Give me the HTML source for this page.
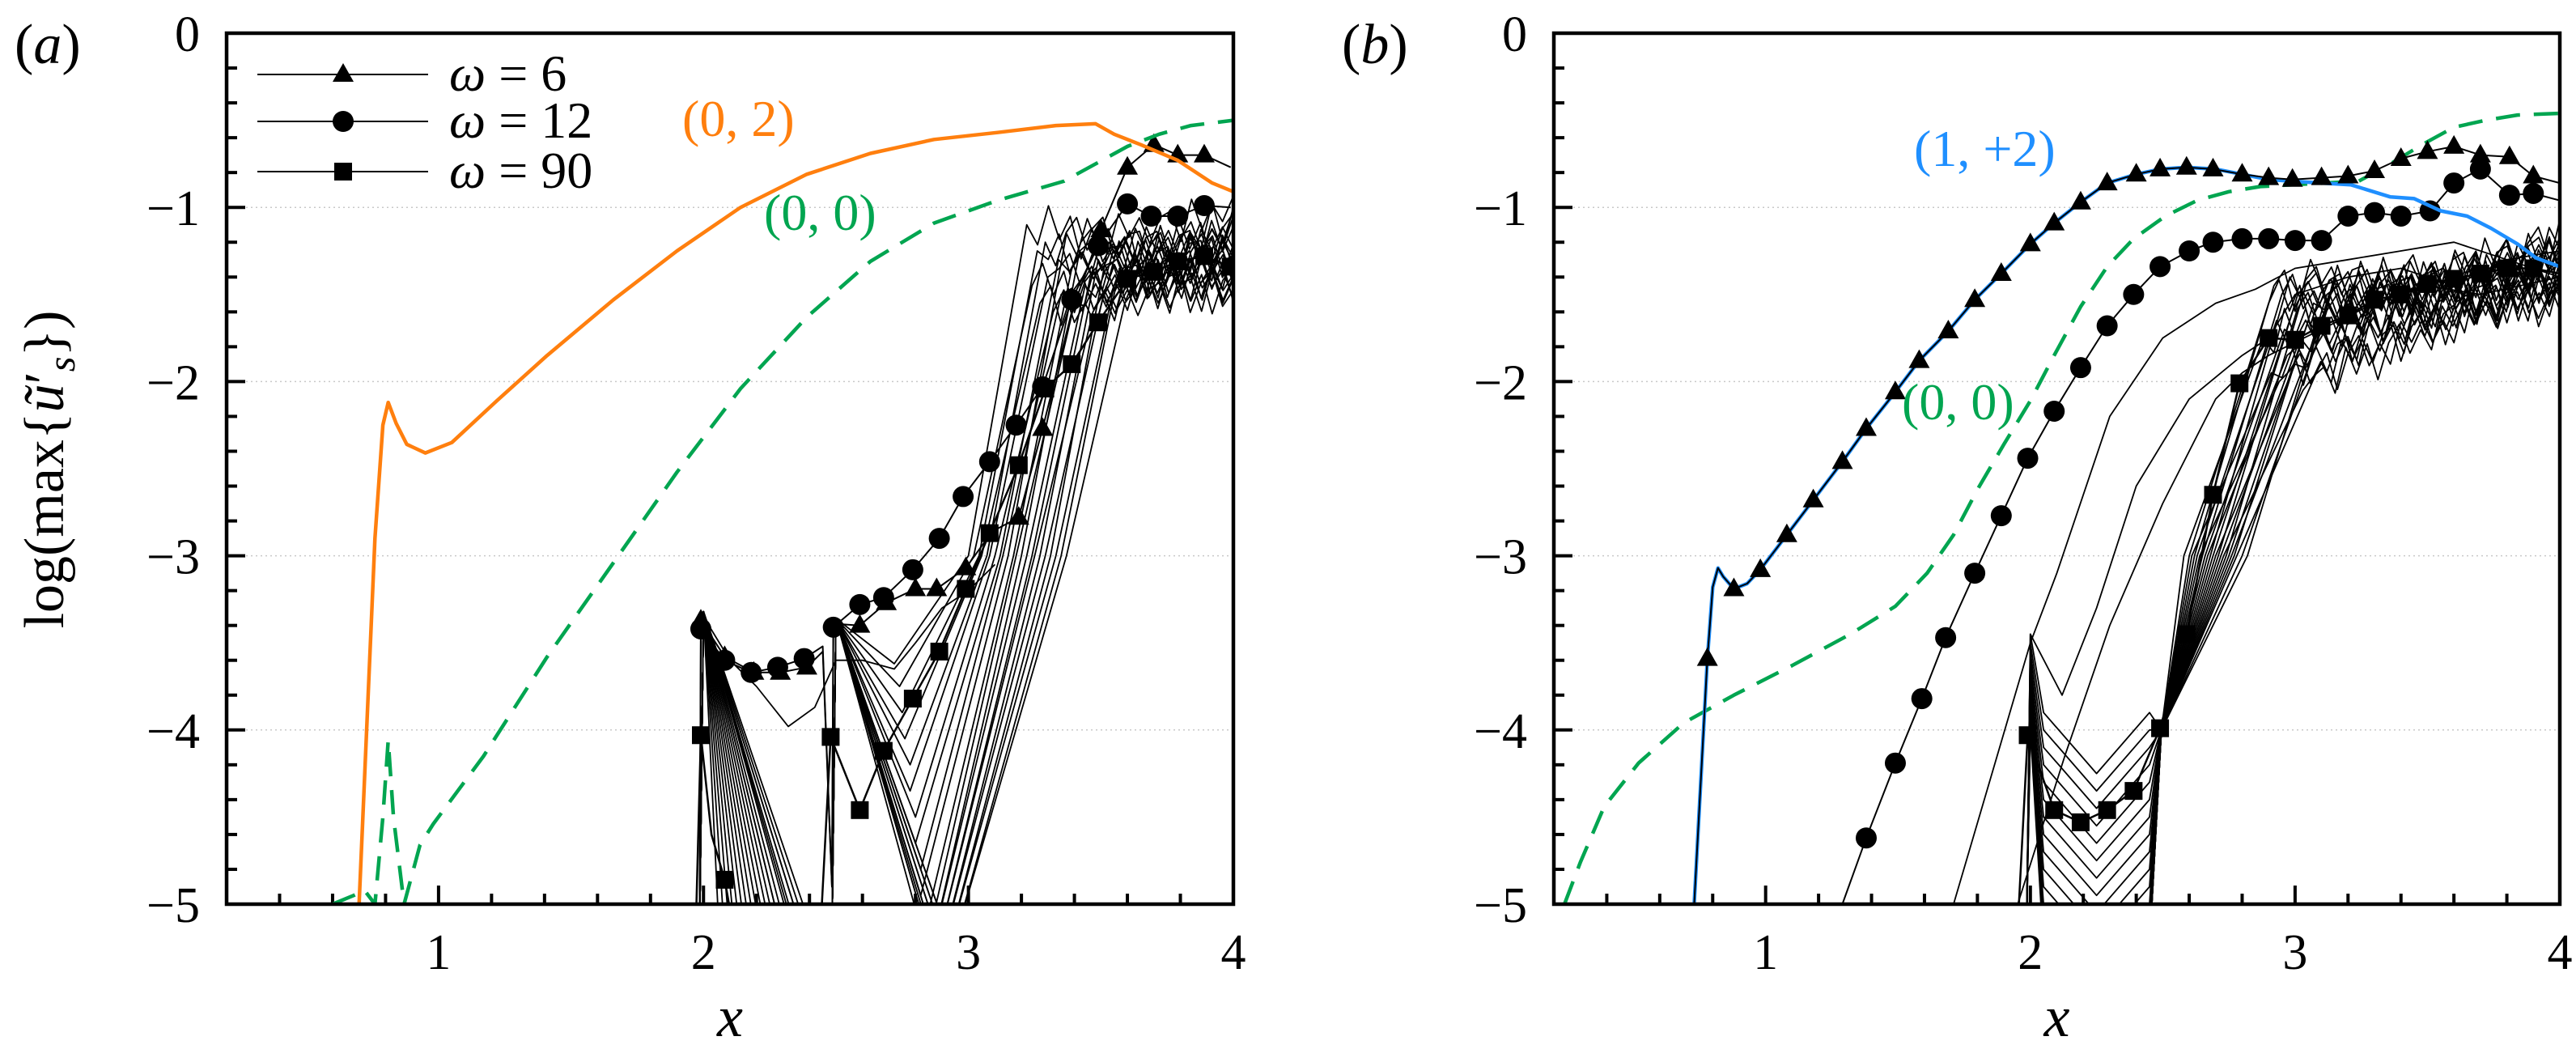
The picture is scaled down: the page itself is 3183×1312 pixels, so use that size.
<!DOCTYPE html>
<html><head><meta charset="utf-8">
<style>
html,body{margin:0;padding:0;background:#fff;overflow:hidden;width:3183px;height:1312px;}
svg{display:block;font-family:"Liberation Serif",serif;}
</style></head>
<body>
<svg id="chart" width="3183" height="1312" viewBox="0 0 3183 1312" xmlns="http://www.w3.org/2000/svg" overflow="hidden">
<defs>
<clipPath id="clipA"><rect x="280" y="41" width="1244" height="1076"/></clipPath>
<clipPath id="clipB"><rect x="1920" y="41" width="1243" height="1076"/></clipPath>
</defs>
<g id="layer"></g>
</svg>
<script>
// ---------- data (panel a) ----------
const xTicks = [1, 2, 3, 4];
const yTicks = [0, -1, -2, -3, -4, -5];
const orangeA_x = [0.70,0.76,0.79,0.81,0.84,0.88,0.95,1.05,1.22,1.41,1.66,1.90,2.14,2.39,2.63,2.87,3.11,3.33,3.48,3.55,3.65,3.79,3.92,4.0];
const orangeA_y = [-5,-2.9,-2.25,-2.12,-2.24,-2.36,-2.41,-2.35,-2.11,-1.85,-1.53,-1.25,-1.0,-0.81,-0.69,-0.61,-0.57,-0.53,-0.52,-0.58,-0.64,-0.73,-0.86,-0.91];
const greenA_x = [0.60,0.68,0.72,0.76,0.79,0.81,0.83,0.87,0.93,0.98,1.17,1.41,1.66,1.90,2.14,2.39,2.63,2.87,3.11,3.36,3.60,3.72,3.84,4.0];
const greenA_y = [-5,-4.95,-4.92,-5,-4.5,-4.06,-4.5,-5,-4.66,-4.54,-4.15,-3.58,-3.04,-2.52,-2.04,-1.63,-1.31,-1.09,-0.96,-0.85,-0.65,-0.58,-0.53,-0.5];
const w6A_x = [1.985,1.99,2.08,2.19,2.29,2.39,2.45,2.485,2.49,2.59,2.69,2.80,2.88,2.99,3.09,3.19,3.28,3.39,3.50,3.60,3.70,3.79,3.89,3.99];
const w6A_y = [-5.2,-3.37,-3.58,-3.67,-3.67,-3.64,-3.55,-4.9,-3.39,-3.40,-3.27,-3.19,-3.19,-3.07,-2.86,-2.78,-2.27,-1.60,-1.13,-0.77,-0.64,-0.70,-0.70,-0.77];
const w6A_m = [0,1,1,1,1,1,0,0,0,1,1,1,1,1,0,1,1,0,1,1,1,1,1,0];
const w12A_x = [1.985,1.99,2.08,2.18,2.28,2.38,2.45,2.485,2.49,2.59,2.68,2.79,2.89,2.98,3.08,3.18,3.28,3.39,3.49,3.60,3.69,3.79,3.89,3.99];
const w12A_y = [-5.2,-3.42,-3.60,-3.67,-3.64,-3.59,-3.52,-4.9,-3.41,-3.28,-3.24,-3.08,-2.90,-2.66,-2.46,-2.25,-2.03,-1.53,-1.22,-0.98,-1.05,-1.05,-0.99,-1.0];
const w12A_m = [0,1,1,1,1,1,0,0,1,1,1,1,1,1,1,1,1,1,1,1,1,1,1,0];
const w90A_x = [1.97,1.99,2.03,2.08,2.12,2.44,2.48,2.59,2.68,2.79,2.89,2.99,3.08,3.19,3.29,3.39,3.49,3.60,3.70,3.79,3.89,3.99];
const w90A_y = [-5.2,-4.03,-4.6,-4.86,-5.2,-5.2,-4.04,-4.46,-4.12,-3.82,-3.55,-3.19,-2.87,-2.48,-2.04,-1.90,-1.66,-1.41,-1.37,-1.31,-1.28,-1.34];
const w90A_m = [0,1,0,1,0,0,1,1,1,1,1,1,1,1,1,1,1,1,1,1,1,1];
const midA_x = [2.0,2.1,2.2,2.32,2.42,2.5,2.6,2.72,2.8,2.9,3.0,3.1];
const midA_y = [-3.35,-3.6,-3.75,-3.98,-3.87,-3.6,-3.6,-3.65,-3.5,-3.3,-3.2,-3.05];
const bundleA_end1 = [2.06,2.08,2.10,2.12,2.14,2.16,2.18,2.20,2.22,2.24,2.26,2.28,2.30,2.32,2.34,2.36,2.38,2.40,2.42,2.38,2.35,2.30];
const bundleA_min = [-3.62,-3.75,-3.90,-4.05,-4.20,-4.35,-4.50,-4.65,-4.80,-4.95,-5.10,-5.30,-5.50,-5.70,-5.90,-6.10,-6.30,-6.50,-6.70,-6.90,-7.10,-7.30];
const bundleA_minX = [2.72,2.74,2.75,2.76,2.78,2.78,2.80,2.80,2.82,2.82,2.84,2.84,2.86,2.86,2.88,2.88,2.90,2.90,2.92,2.92,2.94,2.94];
const bundleA_rise = [3.00,3.02,3.04,3.05,3.07,3.08,3.10,3.12,3.13,3.15,3.17,3.18,3.20,3.22,3.24,3.25,3.27,3.29,3.31,3.33,3.35,3.37];
const bundleA_plat = [-1.10,-1.45,-1.25,-1.55,-1.20,-1.40,-1.60,-1.30,-1.50,-1.15,-1.35,-1.55,-1.25,-1.45,-1.40,-1.60,-1.30,-1.50,-1.20,-1.45,-1.35,-1.55];
const noise = [0.06,-0.08,0.10,-0.04,0.07,-0.11,0.03,0.09,-0.06,0.02,-0.09,0.08,-0.03,0.05,-0.07,0.04];

// ---------- data (panel b) ----------
const blueB_x = [0.73,0.78,0.80,0.82,0.84,0.88,0.93,0.98,1.08,1.18,1.29,1.38,1.49,1.58,1.69,1.79,1.89,2.0,2.09,2.19,2.29,2.40,2.49,2.59,2.70,2.80,2.90,2.99,3.10,3.21,3.36,3.45,3.55,3.65,3.74,3.84,3.91,4.0];
const blueB_y = [-5,-3.59,-3.18,-3.07,-3.12,-3.19,-3.16,-3.08,-2.88,-2.68,-2.46,-2.27,-2.06,-1.88,-1.71,-1.53,-1.38,-1.21,-1.09,-0.97,-0.86,-0.81,-0.78,-0.77,-0.78,-0.81,-0.84,-0.85,-0.86,-0.87,-0.94,-0.95,-1.02,-1.05,-1.12,-1.21,-1.29,-1.34];
const w6B_x = [0.73,0.78,0.80,0.82,0.84,0.88,0.93,0.98,1.08,1.18,1.29,1.38,1.49,1.58,1.69,1.79,1.89,2.0,2.09,2.19,2.29,2.40,2.49,2.59,2.69,2.80,2.90,2.99,3.10,3.20,3.30,3.40,3.50,3.60,3.70,3.81,3.90,4.0];
const w6B_y = [-5,-3.59,-3.18,-3.07,-3.12,-3.19,-3.16,-3.08,-2.88,-2.68,-2.46,-2.27,-2.06,-1.88,-1.71,-1.53,-1.38,-1.21,-1.09,-0.97,-0.86,-0.81,-0.78,-0.77,-0.78,-0.81,-0.83,-0.84,-0.83,-0.82,-0.79,-0.72,-0.68,-0.65,-0.70,-0.71,-0.82,-0.86];
const w6B_m = [0,1,0,0,0,1,0,1,1,1,1,1,1,1,1,1,1,1,1,1,1,1,1,1,1,1,1,1,1,1,1,1,1,1,1,1,1,0];
const greenB_x = [0.24,0.30,0.39,0.52,0.69,0.88,1.10,1.32,1.49,1.61,1.71,1.80,1.90,2.0,2.09,2.19,2.29,2.39,2.51,2.63,2.75,2.87,3.11,3.24,3.36,3.48,3.60,3.72,3.84,4.0];
const greenB_y = [-5,-4.76,-4.44,-4.19,-3.96,-3.80,-3.63,-3.45,-3.29,-3.10,-2.88,-2.62,-2.36,-2.11,-1.85,-1.57,-1.34,-1.18,-1.05,-0.96,-0.91,-0.88,-0.86,-0.85,-0.75,-0.64,-0.54,-0.50,-0.47,-0.46];
const w12B_x = [1.29,1.38,1.49,1.59,1.68,1.79,1.89,1.99,2.09,2.19,2.29,2.39,2.49,2.60,2.69,2.80,2.90,3.0,3.10,3.20,3.30,3.40,3.51,3.60,3.70,3.81,3.90,4.0];
const w12B_y = [-5,-4.62,-4.19,-3.82,-3.47,-3.10,-2.77,-2.44,-2.17,-1.92,-1.68,-1.50,-1.34,-1.25,-1.20,-1.18,-1.18,-1.19,-1.19,-1.05,-1.03,-1.05,-1.02,-0.86,-0.78,-0.93,-0.92,-0.96];
const w12B_m = [0,1,1,1,1,1,1,1,1,1,1,1,1,1,1,1,1,1,1,1,1,1,1,1,1,1,1,0];
const w90B_x = [1.95,1.99,2.09,2.19,2.29,2.39,2.49,2.59,2.69,2.79,2.90,3.0,3.10,3.20,3.30,3.40,3.50,3.60,3.70,3.80,3.90,4.0];
const w90B_y = [-5.2,-4.03,-4.46,-4.53,-4.46,-4.35,-3.99,-3.45,-2.65,-2.01,-1.75,-1.76,-1.68,-1.62,-1.53,-1.50,-1.44,-1.41,-1.38,-1.35,-1.35,-1.38];
const w90B_m = [0,1,1,1,1,1,1,1,1,1,1,1,1,1,1,1,1,1,1,1,1,0];
const extraB1_x = [1.71,2.0,2.1,2.3,2.5,2.7,2.85,3.0,3.2,3.4,3.6,3.8,4.0];
const extraB1_y = [-5,-3.5,-3.1,-2.2,-1.75,-1.55,-1.47,-1.35,-1.3,-1.25,-1.2,-1.3,-1.25];
const extraB2_x = [1.985,2.0,2.12,2.25,2.4,2.6,2.8,2.9,3.0,3.2,3.4,3.6,3.8,4.0];
const extraB2_y = [-5.2,-3.45,-3.8,-3.3,-2.6,-2.1,-1.85,-1.75,-1.5,-1.4,-1.35,-1.45,-1.3,-1.4];
const extraB3_x = [1.9,2.13,2.3,2.5,2.7,2.8,2.9,3.1,3.3,3.5,3.7,4.0];
const extraB3_y = [-5.6,-4.15,-3.4,-2.7,-2.1,-1.95,-1.85,-1.7,-1.55,-1.45,-1.5,-1.4];
const bundleB_top = [-3.45,-3.5,-3.55,-3.6,-3.65,-3.7,-3.75,-3.8,-3.85,-3.9,-3.95,-4.0,-3.5,-3.6,-3.7,-3.8,-3.9,-4.0,-3.55,-3.65,-3.75,-3.85];
const bundleB_min = [-4.25,-4.35,-4.45,-4.55,-4.65,-4.75,-4.85,-4.95,-5.05,-5.15,-5.25,-5.35,-5.45,-5.55,-5.65,-5.75,-5.85,-5.95,-6.05,-6.15,-6.25,-6.35];
const bundleB_rise = [2.58,2.60,2.61,2.62,2.63,2.64,2.65,2.66,2.67,2.68,2.69,2.70,2.71,2.72,2.73,2.74,2.75,2.76,2.77,2.78,2.80,2.82];
const bundleB_plat = [-1.75,-1.55,-1.95,-1.45,-1.65,-2.0,-1.5,-1.7,-1.85,-1.4,-1.6,-1.9,-1.5,-1.75,-2.05,-1.45,-1.65,-1.8,-1.55,-1.95,-1.7,-1.5];
const bundleB_end = [-1.2,-1.45,-1.3,-1.5,-1.25,-1.4,-1.55,-1.35,-1.2,-1.45,-1.3,-1.5,-1.25,-1.4,-1.35,-1.55,-1.3,-1.45,-1.2,-1.4,-1.5,-1.35];

// ---------- drawing ----------
const NS = 'http://www.w3.org/2000/svg';
const layer = document.getElementById('layer');
const Y0 = 41, YS = 215.2;
const panels = {
  a: {left: 280, right: 1524, clip: 'clipA'},
  b: {left: 1920, right: 3163, clip: 'clipB'}
};
function xs(p, v){ const P = panels[p]; return P.left + (v - 0.2) * (P.right - P.left) / 3.8; }
function ys(v){ return Y0 - v * YS; }
function ysc(v){ return ys(Math.max(v, -5.25)); }
function mk(tag, attrs, parent){
  const e = document.createElementNS(NS, tag);
  for (const k in attrs) e.setAttribute(k, attrs[k]);
  (parent || layer).appendChild(e);
  return e;
}
function txt(str, x, y, size, anchor, parent, style){
  const t = mk('text', {x: x, y: y, 'font-size': size, 'text-anchor': anchor || 'middle', fill: '#000'}, parent);
  if (style) t.setAttribute('font-style', style);
  t.textContent = str;
  return t;
}
function pathD(p, xa, ya){
  return xa.map((v, i) => (i ? 'L' : 'M') + xs(p, v).toFixed(1) + ' ' + ysc(ya[i]).toFixed(1)).join(' ');
}
function drawMarkers(p, g, xa, ya, m, kind){
  xa.forEach((v, i) => {
    if (!m[i]) return;
    const cx = xs(p, v), cy = ys(Math.max(ya[i], -5.2));
    let e;
    if (kind === 'tri') e = mk('polygon', {points: `${cx},${cy-14} ${cx-13},${cy+9} ${cx+13},${cy+9}`, fill: '#000'}, g);
    else if (kind === 'circ') e = mk('circle', {cx: cx, cy: cy, r: 13, fill: '#000'}, g);
    else e = mk('rect', {x: cx-11, y: cy-11, width: 22, height: 22, fill: '#000'}, g);
    
    
  });
}

function axes(p, label){
  const P = panels[p];
  const g = mk('g', {});
  
  
  yTicks.forEach(t => {
    if (t === 0 || t === -5) return;
    const gl = mk('line', {x1: P.left, x2: P.right, y1: ys(t), y2: ys(t), stroke: '#c8c8c8', 'stroke-width': 1.5, 'stroke-dasharray': '2 4'}, g);
    
    
  });
  for (let k = 1; k < 19; k++){
    const v = 0.2 + k * 0.2;
    const isMaj = Math.abs(v - Math.round(v)) < 1e-6;
    const t = mk('line', {x1: xs(p, v), x2: xs(p, v), y1: ys(-5), y2: ys(-5) - (isMaj ? 23 : 13), stroke: '#000', 'stroke-width': 4}, g);
    
    
  }
  for (let k = 1; k < 25; k++){
    const v = -k * 0.2;
    const isMaj = Math.abs(v - Math.round(v)) < 1e-6;
    const t = mk('line', {x1: P.left, x2: P.left + (isMaj ? 23 : 13), y1: ys(v), y2: ys(v), stroke: '#000', 'stroke-width': 4}, g);
    
    
  }
  xTicks.forEach(v => {
    const t = txt(String(v), xs(p, v), 1197, 62, 'middle', g);
    
    
  });
  yTicks.forEach(v => {
    const t = txt(v === 0 ? '0' : '\u2212' + Math.abs(v), P.left - 33, ys(v) + 22, 62, 'end', g);
    
    
  });
  const xl = txt('x', (P.left + P.right) / 2, 1280, 72, 'middle', g, 'italic');
  
  
  const pl = mk('text', {x: P.left - 262, y: 78, 'font-size': 70, fill: '#000'}, g);
  pl.innerHTML = '(<tspan font-style="italic">' + label + '</tspan>)';
  
  
  return g;
}

function series(p, xa, ya, opts, name){
  const g = mk('g', {'clip-path': 'url(#' + panels[p].clip + ')'});
  
  
  const e = mk('path', {d: pathD(p, xa, ya), fill: 'none', stroke: opts.color || '#000', 'stroke-width': opts.w || 2, 'stroke-linejoin': 'round'}, g);
  if (opts.dash) e.setAttribute('stroke-dasharray', opts.dash);
  
  
  if (opts.m) drawMarkers(p, g, xa, ya, opts.m, opts.kind);
  return g;
}

function noisyTail(x0, y0, x1, y1, phase, amp){
  const px = [], py = [];
  const n = Math.max(2, Math.round((x1 - x0) / 0.04));
  for (let k = 1; k <= n; k++){
    const f = k / n;
    px.push(x0 + (x1 - x0) * f);
    py.push(y0 + (y1 - y0) * f + noise[(k + phase) % noise.length] * amp);
  }
  return [px, py];
}

// ----- panel a -----
axes('a', 'a');
bundleA_end1.forEach((e1, i) => {
  const bx = [1.985, 2.0, e1, 2.485, 2.5, bundleA_minX[i], bundleA_rise[i], bundleA_rise[i] + 0.22];
  const by = [-5.2, -3.32, -5.2, -5.2, -3.36, bundleA_min[i], -3.0, bundleA_plat[i]];
  const t = noisyTail(bundleA_rise[i] + 0.22, bundleA_plat[i], 4.0, bundleA_plat[(i + 5) % bundleA_plat.length] + 0.1, i, 1.3);
  series('a', bx.concat(t[0]), by.concat(t[1]), {w: 1.8}, 'bundle-a-curve');
});
series('a', midA_x, midA_y, {w: 1.8}, 'mid-curve-a');
series('a', w90A_x, w90A_y, {w: 2.5, m: w90A_m, kind: 'sq'}, 'omega-90-a');
series('a', w6A_x, w6A_y, {w: 2, m: w6A_m, kind: 'tri'}, 'omega-6-a');
series('a', w12A_x, w12A_y, {w: 2, m: w12A_m, kind: 'circ'}, 'omega-12-a');
series('a', greenA_x, greenA_y, {color: '#00a550', w: 4.5, dash: '30 17'}, 'mode-0-0-a');
series('a', orangeA_x, orangeA_y, {color: '#ff7f0e', w: 4.5}, 'mode-0-2-a');

// ----- panel b -----
axes('b', 'b');
bundleB_top.forEach((t1, i) => {
  const bx = [1.985, 2.0, 2.05, 2.25, 2.45, 2.495, bundleB_rise[i], bundleB_rise[i] + 0.3];
  const by = [-5.2, t1, bundleB_min[i] + 0.35, bundleB_min[i], bundleB_min[i] + 0.35, -4.0, -3.0, bundleB_plat[i]];
  const t = noisyTail(bundleB_rise[i] + 0.3, bundleB_plat[i], 4.0, bundleB_end[i], i, 1.3);
  series('b', bx.concat(t[0]), by.concat(t[1]), {w: 1.8}, 'bundle-b-curve');
});
series('b', extraB1_x, extraB1_y, {w: 1.8}, 'extra-curve-b1');
series('b', extraB2_x, extraB2_y, {w: 1.8}, 'extra-curve-b2');
series('b', extraB3_x, extraB3_y, {w: 1.8}, 'extra-curve-b3');
series('b', w90B_x, w90B_y, {w: 2.5, m: w90B_m, kind: 'sq'}, 'omega-90-b');
series('b', w12B_x, w12B_y, {w: 2, m: w12B_m, kind: 'circ'}, 'omega-12-b');
series('b', greenB_x, greenB_y, {color: '#00a550', w: 4.5, dash: '30 17'}, 'mode-0-0-b');
series('b', blueB_x, blueB_y, {color: '#1f8fff', w: 4.5}, 'mode-1-2-b');
series('b', w6B_x, w6B_y, {w: 2, m: w6B_m, kind: 'tri'}, 'omega-6-b');

['a', 'b'].forEach(p => {
  const P = panels[p];
  const f = mk('rect', {x: P.left, y: Y0, width: P.right - P.left, height: 5 * YS, fill: 'none', stroke: '#000', 'stroke-width': 4.5});
  
  
});

[['(0, 2)', 843, 168, '#ff7f0e', 'label-mode-0-2'], ['(0, 0)', 944, 284, '#00a550', 'label-mode-0-0-a'],
 ['(1, +2)', 2365, 205, '#1f8fff', 'label-mode-1-2'], ['(0, 0)', 2350, 518, '#00a550', 'label-mode-0-0-b']].forEach(a => {
  const t = txt(a[0], a[1], a[2], 64, 'start');
  t.setAttribute('fill', a[3]);
  
  
});

const leg = mk('g', {});


[['6', 92, 'tri'], ['12', 150, 'circ'], ['90', 212, 'sq']].forEach(r => {
  const eg = mk('g', {}, leg);
  
  
  mk('line', {x1: 318, x2: 529, y1: r[1], y2: r[1], stroke: '#000', 'stroke-width': 2}, eg);
  const cx = 424, cy = r[1];
  if (r[2] === 'tri') mk('polygon', {points: `${cx},${cy-14} ${cx-13},${cy+9} ${cx+13},${cy+9}`, fill: '#000'}, eg);
  else if (r[2] === 'circ') mk('circle', {cx: cx, cy: cy, r: 13, fill: '#000'}, eg);
  else mk('rect', {x: cx-11, y: cy-11, width: 22, height: 22, fill: '#000'}, eg);
  const t = mk('text', {x: 555, y: r[1] + 20, 'font-size': 64, fill: '#000'}, eg);
  t.innerHTML = '<tspan font-style="italic">\u03c9</tspan> = ' + r[0];
});

const yt = mk('text', {x: 0, y: 0, 'font-size': 70, fill: '#000', 'text-anchor': 'middle', transform: 'translate(78,580) rotate(-90)'});
yt.innerHTML = 'log(max{<tspan font-style="italic">\u0169</tspan>\u2032<tspan font-size="48" font-style="italic" dy="14">s</tspan><tspan dy="-14">})</tspan>';


</script>
</body></html>
